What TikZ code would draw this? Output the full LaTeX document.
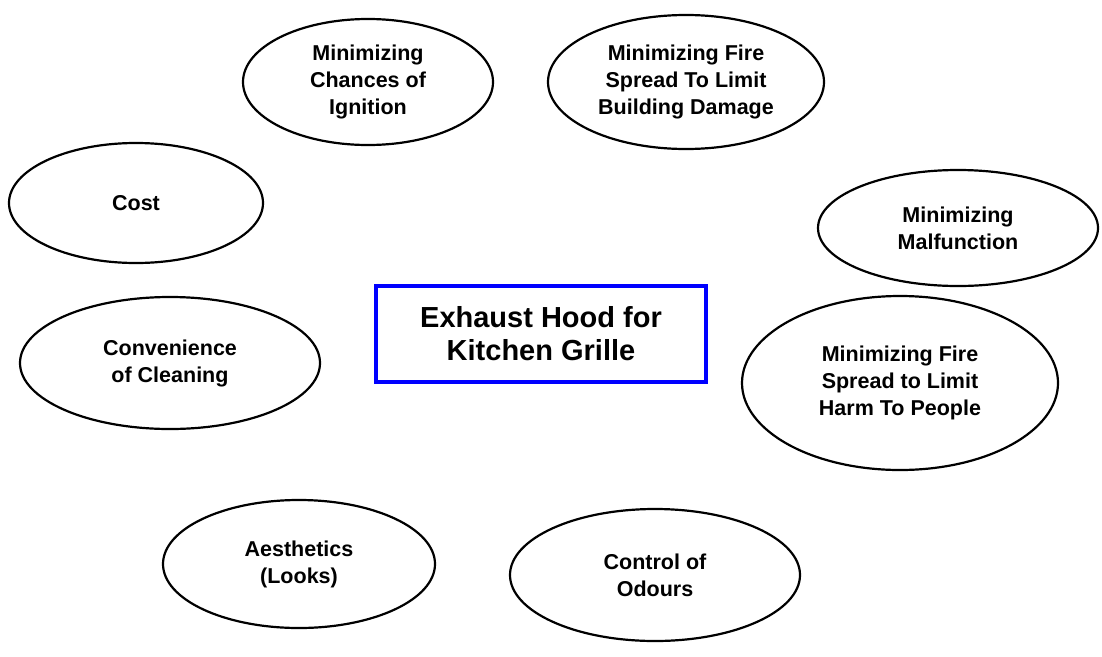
\documentclass[tikz,border=0pt]{standalone}
\usepackage{fontspec}
\setmainfont{Liberation Sans}
\usepackage{tikz}
\usetikzlibrary{shapes.geometric}

\begin{document}
\begin{tikzpicture}[
    x=1pt, y=-1pt,
    node font=\bfseries\fontsize{21.5}{27}\selectfont,
    goal/.style={draw, ellipse, line width=2.2pt, inner sep=0pt, align=center},
    hoodbox/.style={draw=blue, rectangle, line width=3.5pt, inner sep=0pt, align=center,
        minimum width=330pt, minimum height=96pt, font=\bfseries\fontsize{29}{33}\selectfont}
]
\useasboundingbox (0,0) rectangle (1102,656);

\node[hoodbox] (hood) at (541,334) {Exhaust Hood for\\Kitchen Grille};

\node[goal, minimum width=250pt, minimum height=126pt] (ignition) at (368,82) {Minimizing\\Chances of\\Ignition};
\node[goal, minimum width=276pt, minimum height=134pt] (building) at (686,82) {Minimizing Fire\\Spread To Limit\\Building Damage};
\node[goal, minimum width=254pt, minimum height=120pt] (cost) at (136,203) {Cost};
\node[goal, minimum width=280pt, minimum height=116pt] (malfunction) at (958,228) {Minimizing\\Malfunction};
\node[goal, minimum width=300pt, minimum height=132pt] (cleaning) at (170,363) {Convenience\\of Cleaning};
\node[goal, minimum width=316pt, minimum height=174pt] (people) at (900,383) {Minimizing Fire\\Spread to Limit\\Harm To People};
\node[goal, minimum width=272pt, minimum height=128pt] (looks) at (299,564) {Aesthetics\\(Looks)};
\node[goal, minimum width=290pt, minimum height=132pt] (odours) at (655,575) {Control of\\Odours};

\end{tikzpicture}
\end{document}
